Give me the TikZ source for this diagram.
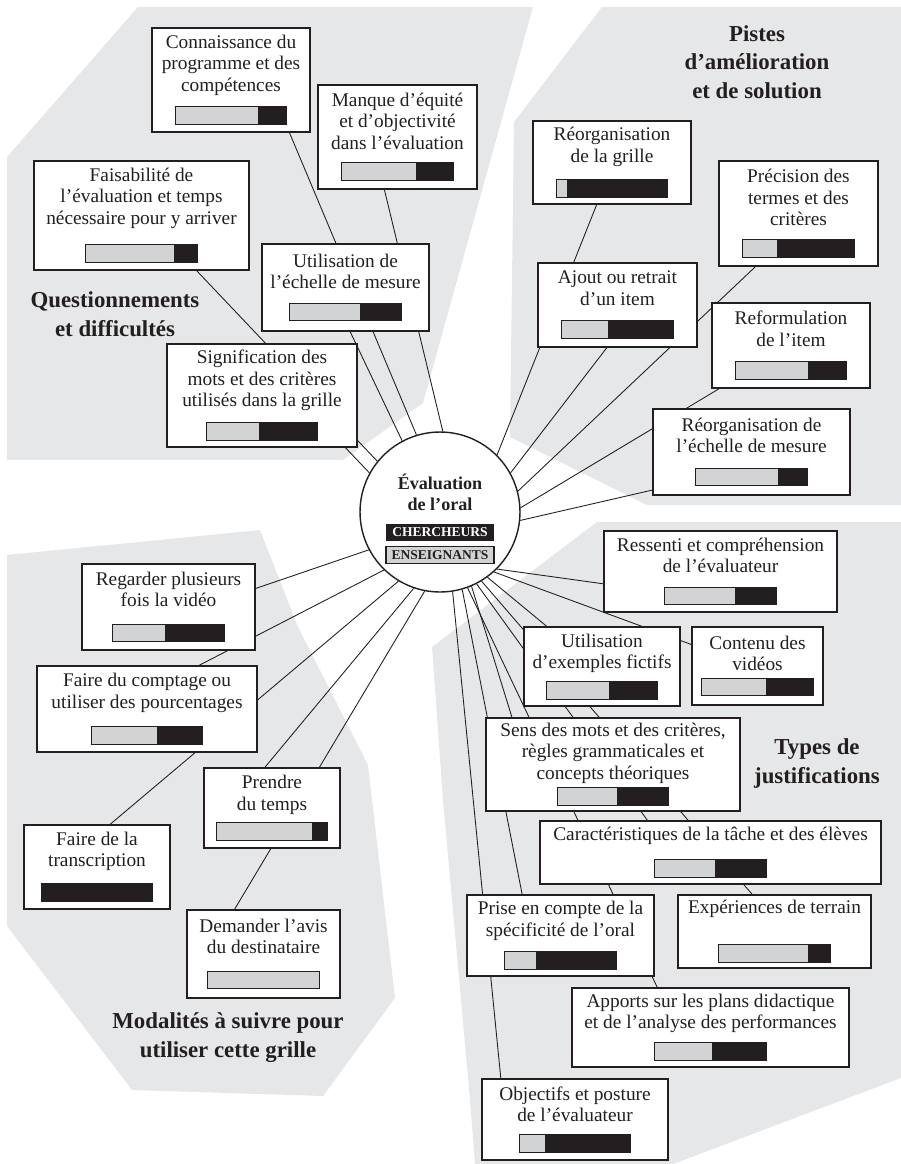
\documentclass[tikz,border=0pt]{standalone}
\usepackage{fontspec}
\setmainfont{Liberation Serif}
\usepackage{xcolor}
\usetikzlibrary{positioning}

\definecolor{regiongray}{HTML}{E6E7E8}
\definecolor{bargray}{HTML}{D1D3D4}
\definecolor{barblack}{HTML}{231F20}

\pgfdeclarelayer{back}
\pgfsetlayers{back,main}

% share bar: grey part = first value, black part = the rest
\newlength{\barw}\setlength{\barw}{2.22cm}
\newlength{\barh}\setlength{\barh}{0.34cm}
\newcommand{\ratebar}[1]{{\setlength{\fboxsep}{0pt}\setlength{\fboxrule}{0.5pt}%
  \fcolorbox{barblack}{barblack}{\textcolor{bargray}{\rule{#1\barw}{\barh}}\hspace*{\dimexpr\barw-#1\barw\relax}}}}

\begin{document}
\begin{tikzpicture}[
    x=0.02cm, y=-0.02cm,
    item/.style={rectangle, draw=barblack, line width=0.7pt, fill=white, align=center,
        inner sep=0pt, text=barblack, font=\fontsize{11}{12.2}\selectfont},
    boxsize/.style 2 args={minimum width=#1*0.02cm, minimum height=#2*0.02cm},
    hub/.style={circle, draw=barblack, line width=0.8pt, fill=white, minimum size=3.2cm, inner sep=0pt},
    tag/.style={minimum width=2.16cm, minimum height=0.34cm, inner sep=0pt,
        font=\fontsize{7.7}{8}\selectfont\bfseries},
    grouplabel/.style={align=center, text=barblack, font=\fontsize{13}{16.3}\selectfont\bfseries},
    region/.style={fill=regiongray},
    link/.style={draw=barblack, line width=0.5pt}
]
    \useasboundingbox (0,0) rectangle (901,1164);

    % grey zones
    \begin{pgfonlayer}{back}
    \fill[region] (7,157) -- (138,7) -- (533,7) -- (423,403) -- (343,460) -- (7,460) -- cycle;
    \fill[region] (602,7) -- (901,7) -- (901,505) -- (647,505) -- (510,437) -- (514,122) -- cycle;
    \fill[region] (597,522) -- (901,522) -- (901,1078) -- (673,1164) -- (475,1164) -- (470,1100) -- (443,800) -- (432,647) -- cycle;
    \fill[region] (7,555) -- (260,530) -- (298,627) -- (368,765) -- (395,998) -- (323,1096) -- (132,1090) -- (7,926) -- cycle;
    \end{pgfonlayer}

    % centre
    \node[hub] (ctr) at (440,512) {};
    \node[align=center, text=barblack, font=\fontsize{10.3}{12}\selectfont\bfseries] (title) at (440,492) {Évaluation\\de l’oral};
    \node[tag, fill=barblack, text=white] (chtag) at (440,532.5) {CHERCHEURS};
    \node[tag, fill=bargray, draw=barblack, line width=0.6pt, text=barblack, below=0.1cm of chtag] (entag) {ENSEIGNANTS};

    % group titles
    \node[grouplabel] (qlabel) at (115,314) {Questionnements\\et difficultés};
    \node[grouplabel] (plabel) at (757,62) {Pistes\\d’amélioration\\et de solution};
    \node[grouplabel] (tlabel) at (817,763.5) {Types de\\justifications};
    \node[grouplabel] (mlabel) at (228,1037.5) {Modalités à suivre pour\\utiliser cette grille};

    % Questionnements et difficultés
    \node[item, boxsize={158}{104}] (conn) at (231,80) {Connaissance du\\programme et des\\compétences\\[5.3pt]\ratebar{0.74}};
    \node[item, boxsize={159}{104}] (manque) at (397.5,137) {Manque d’équité\\et d’objectivité\\dans l’évaluation\\[5.3pt]\ratebar{0.67}};
    \node[item, boxsize={215}{109}] (faisab) at (141.5,215.5) {Faisabilité de\\l’évaluation et temps\\nécessaire pour y arriver\\[8.2pt]\ratebar{0.79}};
    \node[item, boxsize={167}{87}] (util) at (345.5,287.5) {Utilisation de\\l’échelle de mesure\\[5.9pt]\ratebar{0.63}};
    \node[item, boxsize={190}{103}] (sig) at (262,395.5) {Signification des\\mots et des critères\\utilisés dans la grille\\[5.3pt]\ratebar{0.47}};

    % Pistes d'amelioration et de solution
    \node[item, boxsize={158}{83}] (grille) at (612,162.5) {Réorganisation\\de la grille\\[5.9pt]\ratebar{0.09}};
    \node[item, boxsize={159}{105}] (precis) at (798.5,213.5) {Précision des\\termes et des\\critères\\[5.3pt]\ratebar{0.31}};
    \node[item, boxsize={159}{84}] (ajout) at (617.5,305) {Ajout ou retrait\\d’un item\\[6.5pt]\ratebar{0.41}};
    \node[item, boxsize={158}{85}] (reform) at (791,345.5) {Reformulation\\de l’item\\[6.5pt]\ratebar{0.65}};
    \node[item, boxsize={197}{86}] (reorg) at (751.5,452) {Réorganisation de\\l’échelle de mesure\\[6.5pt]\ratebar{0.74}};

    % Types de justifications
    \node[item, boxsize={233}{81}] (ressenti) at (720.5,571.5) {Ressenti et compréhension\\de l’évaluateur\\[5.9pt]\ratebar{0.63}};
    \node[item, boxsize={156}{79}] (utilex) at (602,666.5) {Utilisation\\d’exemples fictifs\\[3.6pt]\ratebar{0.56}};
    \node[item, boxsize={131}{78}] (contenu) at (757.5,666) {Contenu des\\vidéos\\[1.9pt]\ratebar{0.58}};
    \node[item, boxsize={254}{93}] (sens) at (613,764.5) {Sens des mots et des critères,\\règles grammaticales et\\concepts théoriques\\[1.4pt]\ratebar{0.54}};
    \node[item, boxsize={341}{63}] (caract) at (710.5,852.5) {Caractéristiques de la tâche et des élèves\\[7pt]\ratebar{0.54}};
    \node[item, boxsize={187}{81}] (prise) at (560.5,935.5) {Prise en compte de la\\spécificité de l’oral\\[4.8pt]\ratebar{0.28}};
    \node[item, boxsize={193}{73}] (exper) at (774.5,931.5) {Expériences de terrain\\[13.8pt]\ratebar{0.80}};
    \node[item, boxsize={277}{79}] (apports) at (710.5,1027.5) {Apports sur les plans didactique\\et de l’analyse des performances\\[4.2pt]\ratebar{0.51}};
    \node[item, boxsize={186}{81}] (object) at (575,1119.5) {Objectifs et posture\\de l’évaluateur\\[4.8pt]\ratebar{0.23}};

    % Modalites a suivre
    \node[item, boxsize={173}{86}] (regard) at (168.5,607) {Regarder plusieurs\\fois la vidéo\\[7.6pt]\ratebar{0.47}};
    \node[item, boxsize={220}{86}] (compt) at (147,709) {Faire du comptage ou\\utiliser des pourcentages\\[6.5pt]\ratebar{0.59}};
    \node[item, boxsize={146}{84}] (transc) at (97,867) {Faire de la\\transcription\\[5.9pt]\ratebar{0}};
    \node[item, boxsize={136}{80}] (prendre) at (272,808) {Prendre\\du temps\\[3.1pt]\ratebar{0.86}};
    \node[item, boxsize={153}{88}] (demand) at (263.5,954) {Demander l’avis\\du destinataire\\[7.6pt]\ratebar{1}};

    % spokes, behind the boxes
    \begin{pgfonlayer}{back}
    \draw[link] (ctr.107) -- (conn.-42);
    \draw[link] (ctr.88) -- (manque.-104);
    \draw[link] (ctr.141) -- (faisab.-45);
    \draw[link] (ctr.118) -- (util.-84);
    \draw[link] (ctr.151) -- (sig.-32);

    \draw[link] (ctr.45) -- (grille.-110);
    \draw[link] (ctr.15) -- (precis.-129);
    \draw[link] (ctr.29) -- (ajout.-104);
    \draw[link] (ctr.3) -- (reform.-149);
    \draw[link] (ctr.-6) -- (reorg.-159);

    \draw[link] (ctr.-45) -- (ressenti.-174);
    \draw[link] (ctr.-48) -- (contenu.162);
    \draw[link] (ctr.-54) -- (utilex.144);
    \draw[link] (ctr.-59) -- (exper.121);
    \draw[link] (ctr.-63) -- (caract.153);
    \draw[link] (ctr.-67) -- (sens.155);
    \draw[link] (ctr.-70) -- (apports.143);
    \draw[link] (ctr.-74) -- (prise.133);
    \draw[link] (ctr.-81) -- (object.151);

    \draw[link] (ctr.-152) -- (regard.12);
    \draw[link] (ctr.-134) -- (compt.40);
    \draw[link] (ctr.-121) -- (transc.73);
    \draw[link] (ctr.-109) -- (prendre.100);
    \draw[link] (ctr.-101) -- (demand.123);
    \end{pgfonlayer}
\end{tikzpicture}
\end{document}
